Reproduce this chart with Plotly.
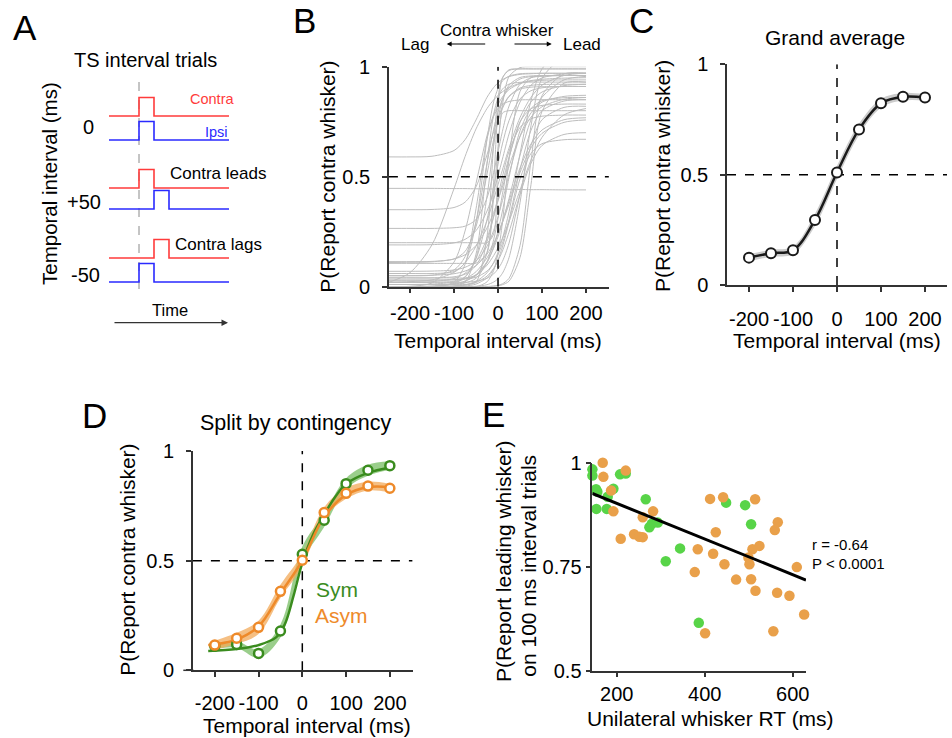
import plotly.graph_objects as go

W, H = 952, 738
FONT = "Liberation Sans, Arial, sans-serif"
AX = "#333333"

# ---------------- Panel A (schematic) ----------------
A_interval_labels = ["0", "+50", "-50"]
A_contra_onset_ms = [0, 0, 50]
A_ipsi_onset_ms = [0, 50, 0]
A_pulse_ms = 50
A_time_span_ms = [-100, 300]

# ---------------- Panel B (individual psychometric fits) ----------------
B_x = [-248, -200, -150, -100, -75, -50, -25, -10, 0, 10, 25, 50, 75, 100, 150, 200]
B_curves = [
    [.59, .59, .593, .619, .668, .758, .861, .905, .927, .941, .955, .965, .968, .97, .97, .97],
    [.447, .447, .447, .446, .446, .445, .445, .444, .444, .443, .443, .442, .441, .441, .44, .44],
    [.35, .35, .351, .36, .384, .454, .60, .705, .767, .816, .866, .903, .915, .919, .92, .92],
    [.265, .265, .265, .268, .275, .305, .404, .519, .613, .706, .821, .92, .95, .957, .96, .96],
    [.2, .2, .2, .2, .2, .2, .2, .239, .596, .789, .8, .8, .8, .8, .8, .8],
    [.19, .19, .191, .199, .215, .255, .344, .432, .503, .58, .694, .839, .916, .949, .967, .97],
    [.114, .114, .115, .126, .16, .273, .512, .669, .751, .81, .864, .898, .907, .909, .91, .91],
    [.106, .106, .106, .106, .106, .107, .156, .475, .805, .948, .986, .99, .99, .99, .99, .99],
    [.07, .07, .071, .076, .088, .116, .184, .255, .318, .391, .51, .685, .79, .839, .865, .87],
    [.05, .05, .052, .076, .136, .295, .561, .715, .794, .852, .905, .944, .955, .958, .96, .96],
    [.05, .05, .052, .059, .071, .096, .148, .198, .241, .291, .375, .519, .631, .697, .747, .758],
    [.03, .03, .03, .031, .035, .043, .071, .107, .145, .197, .305, .531, .711, .80, .844, .85],
    [.02, .02, .023, .037, .061, .115, .221, .317, .39, .47, .588, .746, .84, .885, .914, .92],
    [.01, .01, .012, .021, .036, .068, .131, .19, .24, .297, .39, .54, .649, .712, .759, .768],
    [.02, .064, .191, .446, .591, .717, .81, .849, .869, .886, .905, .925, .937, .943, .948, .95],
    [0, 0, 0, .003, .007, .019, .048, .083, .118, .162, .248, .419, .561, .642, .692, .70],
    [0, 0, 0, .001, .003, .012, .04, .08, .122, .18, .293, .49, .606, .65, .668, .67],
    [.02, .02, .02, .02, .02, .025, .038, .058, .081, .115, .198, .42, .642, .759, .815, .82],
    [0, 0, 0, 0, 0, .002, .009, .021, .036, .061, .132, .382, .732, .947, 1.043, 1.05],
    [0, 0, 0, .003, .009, .024, .063, .11, .156, .218, .341, .605, .846, .99, 1.084, 1.1],
    [0, 0, 0, 0, 0, 0, .001, .003, .0065, .013, .038, .187, .571, .868, .967, .97],
    [0, 0, 0, 0, 0, 0, 0, .002, .004, .009, .025, .133, .465, .797, .925, .93],
    [.03, .03, .03, .032, .037, .054, .109, .181, .253, .344, .496, .709, .81, .845, .859, .86],
    [.01, .01, .01, .012, .017, .038, .113, .213, .309, .42, .582, .75, .809, .824, .83, .83],
    [.04, .04, .04, .045, .057, .096, .205, .32, .41, .50, .615, .724, .763, .775, .78, .78],
    [.02, .02, .02, .025, .043, .132, .412, .641, .764, .848, .916, .951, .958, .96, .96, .96],
    [0, 0, 0, .003, .021, .148, .561, .782, .859, .898, .921, .929, .93, .93, .93, .93],
    [.01, .01, .01, .01, .01, .022, .229, .648, .86, .949, .983, .99, .99, .99, .99, .99],
    [.06, .06, .06, .069, .109, .292, .67, .84, .901, .935, .957, .968, .97, .97, .97, .97],
    [0, 0, 0, .021, .101, .354, .672, .774, .81, .829, .842, .849, .85, .85, .85, .85],
    [0, 0, .002, .015, .045, .127, .306, .455, .556, .649, .755, .854, .891, .904, .91, .91],
    [0, 0, 0, .011, .024, .054, .114, .175, .227, .291, .401, .597, .759, .861, .94, .956],
    [.02, .023, .031, .065, .108, .184, .30, .396, .464, .531, .63, .769, .861, .916, .96, .971],
    [0, .002, .017, .112, .253, .47, .687, .782, .828, .862, .896, .923, .934, .938, .94, .94],
    [.11, .111, .113, .126, .145, .187, .267, .337, .393, .453, .547, .682, .771, .818, .852, .86],
    [0, .001, .003, .013, .026, .051, .098, .141, .177, .22, .296, .439, .576, .679, .781, .81],
    [.04, .04, .04, .04, .04, .051, .154, .403, .637, .825, .955, .996, 1.0, 1.0, 1.0, 1.0],
    [0, 0, 0, 0, 0, 0, .022, .073, .153, .291, .579, .887, .95, .958, .96, .96],
]

# ---------------- Panel C (grand average) ----------------
C_x = [-200, -150, -100, -50, 0, 50, 100, 150, 200]
C_p = [0.124, 0.144, 0.157, 0.295, 0.51, 0.705, 0.823, 0.853, 0.85]
C_sem = [0.016, 0.016, 0.018, 0.028, 0.03, 0.026, 0.02, 0.017, 0.014]

# ---------------- Panel D (split by contingency) ----------------
D_x = [-200, -150, -100, -50, 0, 50, 100, 150, 200]
D_sym = [0.11, 0.118, 0.077, 0.179, 0.529, 0.684, 0.851, 0.912, 0.933]
D_sym_sem = [0.015, 0.015, 0.02, 0.03, 0.035, 0.03, 0.025, 0.025, 0.02]
D_asym = [0.115, 0.146, 0.196, 0.36, 0.502, 0.719, 0.807, 0.84, 0.83]
D_asym_sem = [0.02, 0.025, 0.03, 0.03, 0.03, 0.025, 0.025, 0.02, 0.02]
D_sym_fit_x = [-215, -150, -100, -60, -40, -20, 0, 25, 50, 75, 100, 150, 200]
D_sym_fit_y = [0.088, 0.097, 0.115, 0.15, 0.21, 0.34, 0.49, 0.62, 0.71, 0.79, 0.85, 0.9, 0.925]
D_asym_fit_x = [-215, -200, -150, -100, -50, 0, 50, 100, 150, 200]
D_asym_fit_y = [0.115, 0.118, 0.14, 0.2, 0.35, 0.5, 0.70, 0.80, 0.835, 0.835]

# ---------------- Panel E (RT vs accuracy) ----------------
E_sym_rt = [144.7, 144.7, 153, 156, 153.8, 177.3, 179.5, 192.4, 207.6, 220.5,
            265.9, 274.2, 279.5, 293.2, 343.9, 311.4, 448.5, 491.7, 505.3, 386.4]
E_sym_p = [0.984, 0.969, 0.936, 0.93, 0.889, 0.889, 0.918, 0.9375, 0.972, 0.974,
           0.912, 0.845, 0.853, 0.856, 0.794, 0.763, 0.904, 0.898, 0.852, 0.615]
E_asym_rt = [168.2, 169.7, 187.1, 220.5, 192.4, 209.1, 239.4, 251.5, 259.1, 259.1,
             282.6, 412.1, 441.7, 514.4, 425, 384.1, 419, 444.7, 377.3, 471.2,
             499.2, 501.5, 508.3, 524.2, 505.3, 515.2, 559.1, 565.9, 564.4, 592.4,
             609.1, 630.3, 625.8, 555.8, 400.8]
E_asym_p = [1.0, 0.966, 0.933, 0.981, 0.883, 0.817, 0.828, 0.822, 0.821, 0.869,
            0.883, 0.913, 0.917, 0.912, 0.833, 0.792, 0.781, 0.756, 0.737, 0.719,
            0.772, 0.756, 0.792, 0.800, 0.720, 0.692, 0.838, 0.857, 0.6875, 0.680,
            0.749, 0.873, 0.635, 0.595, 0.590]
E_reg_x = [144.5, 630]
E_reg_y = [0.926, 0.718]
E_stats = ["r = -0.64", "P < 0.0001"]

SYM_LINE, SYM_BAND = "#3a8c1e", "rgba(120,190,100,0.75)"
ASYM_LINE, ASYM_BAND = "#ee8a2a", "rgba(242,170,90,0.75)"
E_GREEN, E_ORANGE = "#58d448", "#e9a04a"

fig = go.Figure()

# ---- Panel A traces ----
A_red_base = [116, 188, 258]
A_blue_base = [140, 209, 282]
A_h = 18.5


def step(onset, base):
    return ([A_time_span_ms[0], onset, onset, onset + A_pulse_ms, onset + A_pulse_ms, A_time_span_ms[1]],
            [base, base, base - A_h, base - A_h, base, base])


fig.add_trace(go.Scatter(x=[0, 0], y=[82, 298], mode="lines", xaxis="x", yaxis="y",
                         line=dict(color="#8a8a8a", width=1, dash="dash")))
for i in range(3):
    xs, ys = step(A_contra_onset_ms[i], A_red_base[i])
    fig.add_trace(go.Scatter(x=xs, y=ys, mode="lines", xaxis="x", yaxis="y",
                             line=dict(color="#ff3b3b", width=1.6)))
    xs, ys = step(A_ipsi_onset_ms[i], A_blue_base[i])
    fig.add_trace(go.Scatter(x=xs, y=ys, mode="lines", xaxis="x", yaxis="y",
                             line=dict(color="#2a2aff", width=1.6)))

# ---- Panel B ----
for c in B_curves:
    fig.add_trace(go.Scatter(x=B_x, y=c, mode="lines", xaxis="x2", yaxis="y2",
                             line=dict(color="#bdbdbd", width=1, shape="spline", smoothing=0.8)))
fig.add_trace(go.Scatter(x=[-248, 252], y=[0.5, 0.5], mode="lines", xaxis="x2", yaxis="y2",
                         line=dict(color="black", width=1.5, dash="dash")))
fig.add_trace(go.Scatter(x=[0, 0], y=[0, 1], mode="lines", xaxis="x2", yaxis="y2",
                         line=dict(color="black", width=1.5, dash="dash")))

# ---- Panel C ----
fig.add_trace(go.Scatter(x=[-250, 250], y=[0.5, 0.5], mode="lines", xaxis="x3", yaxis="y3",
                         line=dict(color="black", width=1.5, dash="dash")))
fig.add_trace(go.Scatter(x=[0, 0], y=[0, 1], mode="lines", xaxis="x3", yaxis="y3",
                         line=dict(color="black", width=1.5, dash="dash")))
fig.add_trace(go.Scatter(x=C_x, y=[p - s for p, s in zip(C_p, C_sem)], mode="lines",
                         xaxis="x3", yaxis="y3", line=dict(width=0, shape="spline")))
fig.add_trace(go.Scatter(x=C_x, y=[p + s for p, s in zip(C_p, C_sem)], mode="lines",
                         xaxis="x3", yaxis="y3", fill="tonexty", fillcolor="#cccccc",
                         line=dict(width=0, shape="spline")))
fig.add_trace(go.Scatter(x=C_x, y=C_p, mode="lines+markers", xaxis="x3", yaxis="y3",
                         line=dict(color="#1a1a1a", width=2.5, shape="spline"),
                         marker=dict(size=10, color="white", line=dict(color="#1a1a1a", width=2)),
                         cliponaxis=False))

# ---- Panel D ----
fig.add_trace(go.Scatter(x=[-250, 252], y=[0.5, 0.5], mode="lines", xaxis="x4", yaxis="y4",
                         line=dict(color="black", width=1.5, dash="dash")))
fig.add_trace(go.Scatter(x=[0, 0], y=[0, 1], mode="lines", xaxis="x4", yaxis="y4",
                         line=dict(color="black", width=1.5, dash="dash")))
for xs, ys, ss, band in [(D_x, D_sym, D_sym_sem, SYM_BAND), (D_x, D_asym, D_asym_sem, ASYM_BAND)]:
    fig.add_trace(go.Scatter(x=xs, y=[p - s for p, s in zip(ys, ss)], mode="lines",
                             xaxis="x4", yaxis="y4", line=dict(width=0, shape="spline")))
    fig.add_trace(go.Scatter(x=xs, y=[p + s for p, s in zip(ys, ss)], mode="lines",
                             xaxis="x4", yaxis="y4", fill="tonexty", fillcolor=band,
                             line=dict(width=0, shape="spline")))
fig.add_trace(go.Scatter(x=D_sym_fit_x, y=D_sym_fit_y, mode="lines", xaxis="x4", yaxis="y4",
                         line=dict(color=SYM_LINE, width=2.5, shape="spline")))
fig.add_trace(go.Scatter(x=D_asym_fit_x, y=D_asym_fit_y, mode="lines", xaxis="x4", yaxis="y4",
                         line=dict(color=ASYM_LINE, width=2.5, shape="spline")))
fig.add_trace(go.Scatter(x=D_x, y=D_sym, mode="markers", xaxis="x4", yaxis="y4",
                         marker=dict(size=9, color="white", line=dict(color=SYM_LINE, width=2.5))))
fig.add_trace(go.Scatter(x=D_x, y=D_asym, mode="markers", xaxis="x4", yaxis="y4",
                         marker=dict(size=9, color="white", line=dict(color=ASYM_LINE, width=2.5))))

# ---- Panel E ----
fig.add_trace(go.Scatter(x=E_sym_rt, y=E_sym_p, mode="markers", xaxis="x5", yaxis="y5",
                         marker=dict(size=10.5, color=E_GREEN), cliponaxis=False))
fig.add_trace(go.Scatter(x=E_asym_rt, y=E_asym_p, mode="markers", xaxis="x5", yaxis="y5",
                         marker=dict(size=10.5, color=E_ORANGE), cliponaxis=False))
fig.add_trace(go.Scatter(x=E_reg_x, y=E_reg_y, mode="lines", xaxis="x5", yaxis="y5",
                         line=dict(color="black", width=3)))


def pxd(x0, x1):
    return [x0 / W, x1 / W]


def pyd(y_bottom, y_top):
    return [1 - y_bottom / H, 1 - y_top / H]


def axis(domain, rng, tickvals=None, ticktext=None, visible=True, anchor=None, standoff=0):
    d = dict(domain=domain, range=rng, showgrid=False, zeroline=False, visible=visible,
             fixedrange=True, automargin=False)
    if anchor:
        d["anchor"] = anchor
    if visible:
        d.update(showline=True, linecolor=AX, linewidth=1.5, ticks="outside", ticklen=5,
                 tickwidth=1.5, tickcolor=AX, tickvals=tickvals, ticktext=ticktext,
                 ticklabelstandoff=standoff,
                 tickfont=dict(family=FONT, size=20, color="black"))
    return d


xt = [-200, -100, 0, 100, 200]
xtt = ["-200", "-100", "0", "100", "200"]

fig.update_layout(
    width=W, height=H, autosize=False, margin=dict(l=0, r=0, t=0, b=0, pad=0),
    paper_bgcolor="white", plot_bgcolor="rgba(0,0,0,0)", showlegend=False,
    font=dict(family=FONT, color="black"),
    xaxis=axis(pxd(0, 290), [-463.33, 503.33], visible=False, anchor="y"),
    yaxis=axis(pyd(330, 0), [330, 0], visible=False, anchor="x"),
    xaxis2=axis(pxd(388.9, 608.9), [-248, 252], xt, xtt, anchor="y2", standoff=3),
    yaxis2=axis(pyd(286.7, 66.7), [0, 1], [0, 0.5, 1], ["0", "0.5", "1"], anchor="x2", standoff=8),
    xaxis3=axis(pxd(727, 947), [-250, 250], xt, xtt, anchor="y3", standoff=10),
    yaxis3=axis(pyd(285, 64.3), [0, 1], [0, 0.5, 1], ["0", "0.5", "1"], anchor="x3", standoff=8),
    xaxis4=axis(pxd(192.9, 412.6), [-250, 252], xt, xtt, anchor="y4", standoff=9),
    yaxis4=axis(pyd(670.3, 451), [0, 1], [0, 0.5, 1], ["0", "0.5", "1"], anchor="x4", standoff=8),
    xaxis5=axis(pxd(592.3, 806), [144.5, 630], [200, 400, 600], ["200", "400", "600"], anchor="y5"),
    yaxis5=axis(pyd(670.7, 462.7), [0.5, 1], [0.5, 0.75, 1], ["0.5", "0.75", "1"], anchor="x5"),
)


def ann(text, px, py, size, color="black", angle=0, xanchor="center"):
    return dict(text=text, x=px / W, y=1 - py / H, xref="paper", yref="paper", showarrow=False,
                font=dict(family=FONT, size=size, color=color), textangle=angle,
                xanchor=xanchor, yanchor="middle")


def ann_a(text, t, py, size, color="black", angle=0):
    return dict(text=text, x=t, y=py, xref="x", yref="y", showarrow=False,
                font=dict(family=FONT, size=size, color=color), textangle=angle,
                xanchor="center", yanchor="middle")


anns = []
# panel letters
for letter, px, py in [("A", 25, 27), ("B", 304, 21), ("C", 641, 21), ("D", 94, 416), ("E", 493, 414)]:
    anns.append(ann(letter, px, py, 35))

# Panel A text
anns += [
    ann_a("TS interval trials", 20, 60, 20),
    ann_a("Contra", 242, 99, 14.5, "#ff3b3b"),
    ann_a("Ipsi", 259, 131.7, 14.5, "#2a2aff"),
    ann_a("Contra leads", 264, 173.3, 17),
    ann_a("Contra lags", 265, 244.3, 17),
    ann_a(A_interval_labels[0], -169, 126.7, 20),
    ann_a(A_interval_labels[1], -183, 201.7, 20),
    ann_a(A_interval_labels[2], -177, 275, 20),
    ann_a("Time", 103, 310, 16.5),
    ann_a("Temporal interval (ms)", -300, 184, 20.5, angle=-90),
    dict(text="", x=296.7, y=322.7, xref="x", yref="y", ax=-86.7, ay=322.7, axref="x", ayref="y",
         showarrow=True, arrowhead=2, arrowsize=1, arrowwidth=1.3, arrowcolor="#333333"),
]

# Panel B text
anns += [
    ann("Contra whisker", 496.7, 30, 17),
    ann("Lag", 415, 44.3, 17),
    ann("Lead", 581.7, 44.3, 17),
    dict(text="", x=446.7 / W, y=1 - 44 / H, xref="paper", yref="paper", ax=40, ay=0,
         showarrow=True, arrowhead=2, arrowsize=0.9, arrowwidth=1.1, arrowcolor="black"),
    dict(text="", x=551.7 / W, y=1 - 44 / H, xref="paper", yref="paper", ax=-38.7, ay=0,
         showarrow=True, arrowhead=2, arrowsize=0.9, arrowwidth=1.1, arrowcolor="black"),
    ann("P(Report contra whisker)", 326.7, 177, 21, angle=-90),
    ann("Temporal interval (ms)", 498, 340, 21),
]

# Panel C text
anns += [
    ann("Grand average", 835, 38, 21),
    ann("P(Report contra whisker)", 663, 176, 21, angle=-90),
    ann("Temporal interval (ms)", 837, 340, 21),
]

# Panel D text
anns += [
    ann("Split by contingency", 295, 423.3, 21.5),
    ann("P(Report contra whisker)", 126.7, 560, 21, angle=-90),
    ann("Sym", 336.7, 589, 21, SYM_LINE),
    ann("Asym", 341.7, 615, 21, ASYM_LINE),
    ann("Temporal interval (ms)", 307, 725.7, 21),
]

# Panel E text
anns += [
    ann("P(Report leading whisker)", 503, 561, 21, angle=-90),
    ann("on 100 ms interval trials", 529, 565.7, 21, angle=-90),
    ann(E_stats[0], 810, 544.3, 15, xanchor="left"),
    ann(E_stats[1], 810, 563.3, 15, xanchor="left"),
    ann("Unilateral whisker RT (ms)", 710, 718, 21),
]

fig.update_layout(annotations=anns)

# Panel D: x axis line extends slightly left of the y axis
fig.add_shape(type="line", xref="paper", yref="paper", x0=183.3 / W, x1=193.5 / W,
              y0=1 - 670.3 / H, y1=1 - 670.3 / H, line=dict(color=AX, width=1.5))

fig.write_html(
    "out.html",
    config={"displayModeBar": False, "responsive": False},
    post_script="document.documentElement.style.margin='0';document.body.style.margin='0';"
                "document.body.style.padding='0';document.body.style.overflow='hidden';",
)
